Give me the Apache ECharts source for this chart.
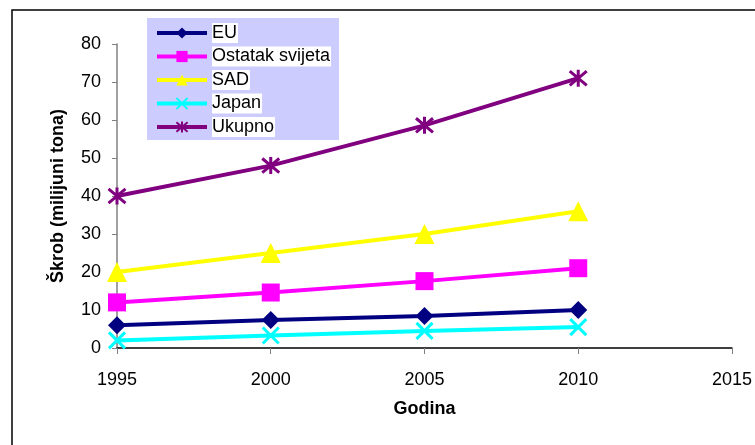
<!DOCTYPE html>
<html>
<head>
<meta charset="utf-8">
<script src="https://cdn.jsdelivr.net/npm/echarts@6/dist/echarts.min.js"></script>
<style>
  html, body { margin: 0; padding: 0; background: #fff; }
  #chart { width: 755px; height: 445px; }
</style>
</head>
<body>
<div id="chart"></div>
<script>
const years = [1995, 2000, 2005, 2010]
const eu = [6, 7.4, 8.4, 10]
const ostatak = [12, 14.6, 17.6, 21]
const sad = [20, 25, 30, 36]
const japan = [2, 3.3, 4.5, 5.5]
const ukupno = [40, 48, 58.6, 71]

const crossPath = 'path://M0,0L10,10M10,0L0,10'
const starPath = 'path://M0,0L10,10M10,0L0,10M5,-1L5,11'

function pairs(values) {
  return values.map((v, i) => [years[i], v])
}

function makeSeries(name, color, values, symbol, symbolSize, stroked) {
  const s = {
    name,
    type: 'line',
    data: pairs(values),
    symbol,
    symbolSize,
    showAllSymbol: true,
    lineStyle: { color, width: 4 },
    itemStyle: { color },
    emphasis: { disabled: true },
  }
  if (stroked) {
    s.itemStyle = { color: 'none', borderColor: color, borderWidth: 3 }
  }
  return s
}

const chart = echarts.init(document.getElementById('chart'))
chart.setOption({
  animation: false,
  textStyle: { fontFamily: 'Liberation Sans, Arial, sans-serif' },
  graphic: [
    {
      type: 'rect',
      z: 0,
      shape: { x: 12, y: 10, width: 800, height: 500 },
      style: { fill: 'none', stroke: '#000', lineWidth: 1.5 },
    },
    {
      type: 'rect',
      z: 0,
      shape: { x: 147, y: 18, width: 192, height: 122 },
      style: { fill: '#ccccff' },
    },
  ],
  legend: {
    orient: 'vertical',
    left: 155,
    top: 23,
    z: 10,
    itemWidth: 50,
    itemHeight: 14,
    itemGap: 3.5,
    padding: 0,
    lineStyle: { width: 4 },
    textStyle: {
      fontSize: 18,
      color: '#000',
      lineHeight: 20,
      backgroundColor: '#fff',
      padding: [0, 1, 0, 0],
    },
  },
  grid: { left: 117, right: 22, top: 44, bottom: 97 },
  xAxis: {
    type: 'value',
    min: 1995,
    max: 2015,
    interval: 5,
    name: 'Godina',
    nameLocation: 'middle',
    nameGap: 52,
    nameTextStyle: { fontSize: 18, fontWeight: 'bold', color: '#000' },
    axisLine: { show: true, lineStyle: { color: '#000', width: 1.5 } },
    axisTick: { show: true, length: 6, lineStyle: { color: '#808080' } },
    axisLabel: { fontSize: 18, color: '#000', margin: 23, formatter: (v) => String(v) },
    splitLine: { show: false },
  },
  yAxis: {
    type: 'value',
    min: 0,
    max: 80,
    interval: 10,
    name: 'Škrob (milijuni tona)',
    nameLocation: 'middle',
    nameGap: 50,
    nameTextStyle: { fontSize: 18, fontWeight: 'bold', color: '#000' },
    axisLine: { show: true, lineStyle: { color: '#808080', width: 1.5 } },
    axisTick: { show: true, length: 5, lineStyle: { color: '#808080' } },
    axisLabel: { fontSize: 18, color: '#000', margin: 16 },
    splitLine: { show: false },
  },
  series: [
    makeSeries('EU', '#000080', eu, 'diamond', 18, false),
    makeSeries('Ostatak svijeta', '#ff00ff', ostatak, 'rect', 18, false),
    makeSeries('SAD', '#ffff00', sad, 'triangle', 20, false),
    makeSeries('Japan', '#00ffff', japan, crossPath, 16, true),
    makeSeries('Ukupno', '#800080', ukupno, starPath, 17, true),
  ],
})
</script>
</body>
</html>
